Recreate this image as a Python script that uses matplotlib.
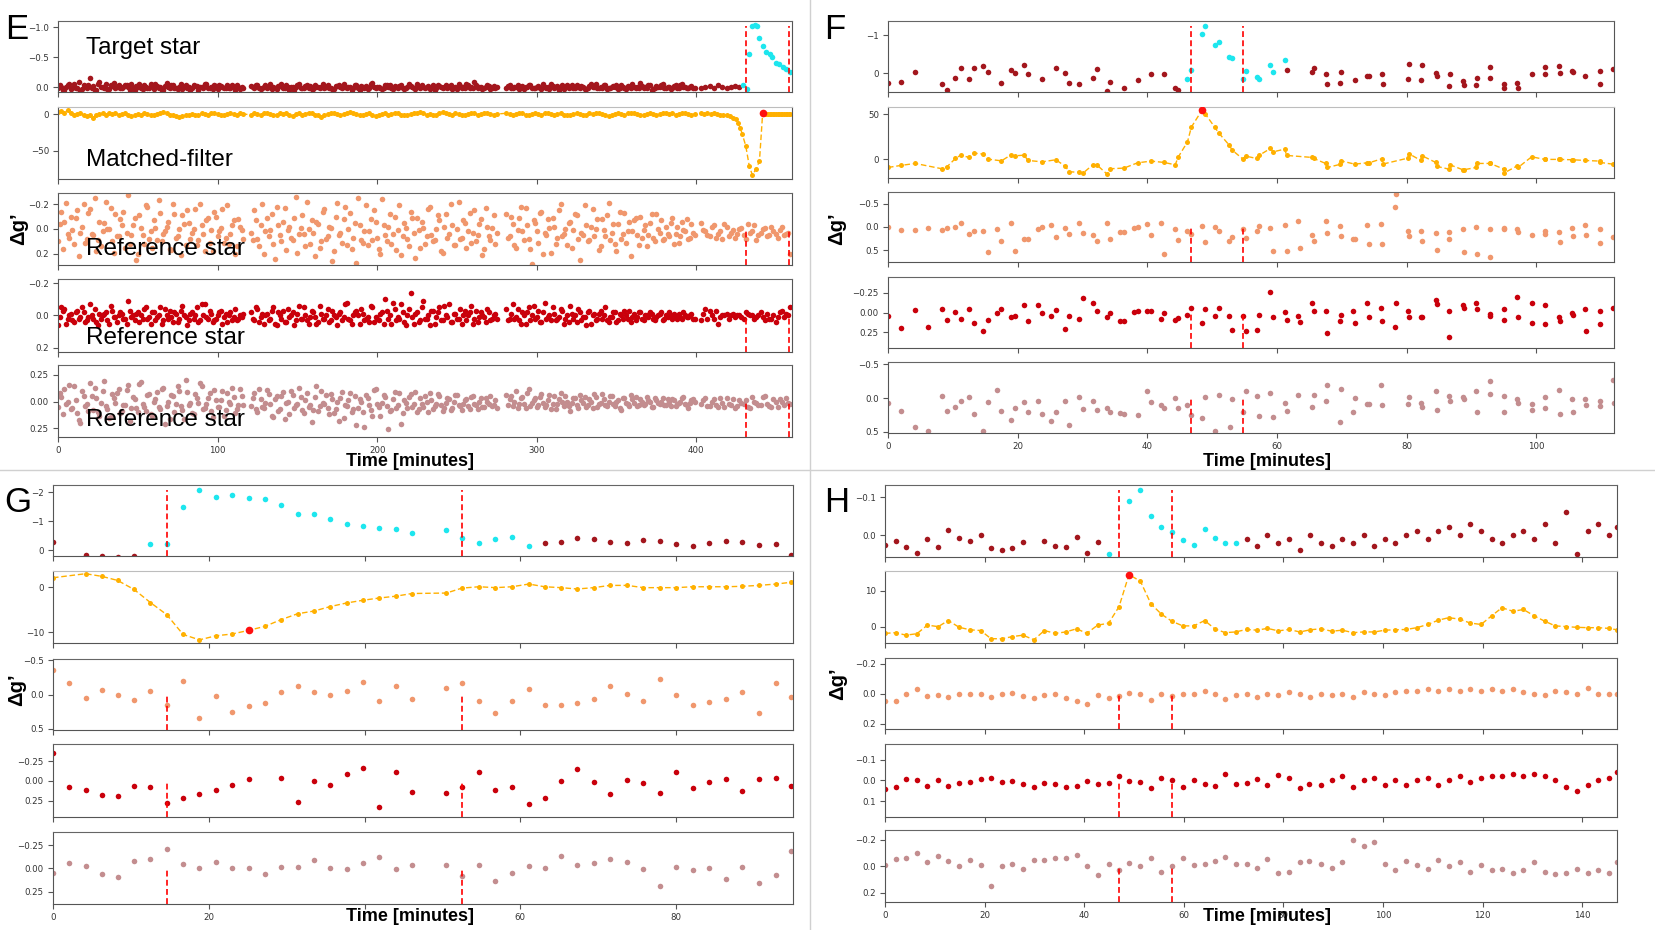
"""
Flare light curves of four events (panels E-H)
"""

import numpy as np
import matplotlib.pyplot as plt
from matplotlib.lines import Line2D


WIDTH, HEIGHT = 1655, 930

TARGET_COLOR = "#a3161d"
EVENT_COLOR = "#1de6ee"
FILTER_COLOR = "#ffb000"
PEAK_COLOR = "#ff1010"
REF_COLORS = ["#f0976d", "#c9000b", "#c38d8f"]
VLINE_COLOR = "#ff0000"
LABEL_FONT = ["Liberation Sans", "DejaVu Sans"]


# ---------------------------------------------------------------- panel E
# segment spans in minutes; "*2" lists are the samples taken half-way
# between the ones of the main list
E_SEGMENTS = [(0, 116), (121, 275), (281, 399)]
E_REF_TAIL_SPAN = (403, 459)
E_TARGET_TAIL_SPAN = (403, 427)
E_FILTER_TAIL_SPAN = (443, 459)

E_TARGET_A = [0.02, -0.01, 0.05, -0.03, 0.03, -0.06, 0.01, 0.06, -0.04, 0.02,
              -0.16, -0.02, 0.05, -0.08, 0.00, -0.05, 0.03, -0.02, 0.01, -0.04,
              0.02, -0.03, 0.00, -0.06, 0.04, -0.01, 0.02, -0.03, 0.01, -0.05,
              0.03, -0.02, 0.00, 0.04, -0.07, 0.01, -0.03, 0.02, -0.01, 0.03,
              -0.04, 0.00, 0.02, -0.02, 0.04, -0.01, -0.05, 0.02, 0.00, -0.03,
              0.03, -0.02, 0.01, -0.04, 0.02, 0.00, -0.03, 0.03, 0.01]
E_TARGET_A2 = [-0.03, 0.04, 0.00, -0.05, 0.02, 0.01, -0.09, 0.03, -0.02, -0.04,
               0.01, 0.05, -0.06, -0.01, 0.02, 0.03, -0.03, -0.07, 0.00, 0.02,
               -0.01, -0.04, 0.04, 0.01, -0.02, -0.05, 0.03, 0.00, 0.02, -0.03,
               -0.06, 0.01, 0.04, -0.02, 0.00, -0.04, 0.02, 0.03, -0.05, -0.01,
               0.01, 0.04, -0.03, -0.02, 0.00, 0.02, -0.06, 0.01, 0.03, -0.02,
               -0.04, 0.00, 0.02, 0.01, -0.03, 0.04, -0.01, 0.00]
E_TARGET_B = [-0.02, 0.01, -0.04, 0.03, -0.01, 0.02, -0.05, 0.00, 0.03, -0.02,
              0.01, -0.03, 0.04, -0.01, 0.00, -0.06, 0.02, -0.02, 0.01, 0.03,
              -0.03, 0.00, -0.01, 0.02, -0.04, 0.01, 0.03, -0.02, 0.00, -0.05,
              0.02, -0.01, 0.01, -0.03, 0.04, 0.00, -0.02, 0.02, -0.07, 0.01,
              -0.01, 0.03, -0.03, 0.00, 0.02, -0.02, 0.01, -0.04, 0.03, 0.00,
              -0.02, 0.01, -0.05, 0.02, 0.00, -0.01, 0.03, -0.03, 0.01, -0.02,
              0.02, -0.04, 0.00, 0.03, -0.01, -0.06, 0.01, 0.02, -0.03, 0.00,
              -0.08, 0.02, -0.01, 0.01, -0.03, 0.03, -0.02, 0.00]
E_TARGET_B2 = [0.00, -0.03, 0.02, 0.02, -0.04, -0.01, 0.03, 0.01, -0.02, -0.05,
               0.02, 0.00, -0.01, 0.04, -0.03, 0.01, 0.01, -0.04, -0.02, 0.03,
               0.00, 0.02, -0.05, -0.01, 0.01, 0.03, -0.02, -0.03, 0.02, 0.00,
               -0.01, 0.04, -0.04, 0.01, -0.02, 0.02, 0.03, -0.06, 0.00, -0.01,
               0.02, 0.01, -0.03, -0.04, 0.03, 0.00, -0.02, 0.02, 0.01, -0.05,
               -0.01, 0.03, 0.00, -0.03, 0.02, -0.02, 0.01, 0.04, -0.04, 0.00,
               -0.01, 0.02, -0.03, 0.01, 0.03, -0.02, 0.00, -0.05, 0.02, 0.01,
               -0.03, 0.00, 0.03, -0.01, -0.02, 0.01, 0.02]
E_TARGET_C = [0.01, -0.03, 0.02, -0.01, 0.03, -0.02, 0.00, -0.04, 0.02, 0.01,
              -0.02, 0.03, -0.01, 0.00, -0.05, 0.02, -0.02, 0.01, 0.03, -0.03,
              0.00, 0.02, -0.04, 0.01, -0.01, 0.03, -0.02, 0.00, -0.06, 0.02,
              0.01, -0.03, 0.02, -0.01, 0.00, 0.03, -0.04, 0.01, -0.02, 0.02,
              -0.01, 0.00, -0.07, 0.02, 0.01, -0.03, 0.03, -0.02, 0.00, -0.05,
              0.02, -0.01, 0.01, -0.03, 0.02, -0.06, 0.00, 0.02, -0.02, 0.01]
E_TARGET_C2 = [-0.02, 0.02, 0.00, -0.04, 0.01, 0.03, -0.01, -0.03, 0.02, 0.00,
               0.01, -0.05, 0.02, 0.03, -0.02, -0.01, 0.04, -0.03, 0.00, 0.01,
               -0.04, 0.02, 0.00, -0.02, 0.03, 0.01, -0.05, -0.01, 0.02, 0.00,
               -0.03, 0.03, 0.01, -0.02, -0.04, 0.02, 0.00, 0.03, -0.01, -0.06,
               0.01, 0.02, -0.02, 0.00, -0.03, 0.04, 0.01, -0.01, -0.04, 0.02,
               0.00, 0.03, -0.02, 0.01, -0.03, 0.00, 0.02, -0.01, 0.01]
E_TARGET_TAIL = [0.01, 0.00, -0.02, 0.01, -0.03, 0.00, 0.02, -0.01, -0.02, 0.00]
E_TARGET_EVENT = [(429.0, -0.03), (431.5, 0.03), (433.2, -0.55), (435.0, -1.02),
                  (436.5, -1.04), (437.8, -1.01), (439.5, -0.82), (441.8, -0.69),
                  (443.9, -0.58), (446.0, -0.55), (447.6, -0.50), (450.0, -0.41),
                  (452.0, -0.39), (454.2, -0.33), (456.2, -0.30), (459.0, -0.25)]

E_FILTER_A = [3, 4, 2, 5, 1, -1, 0, 2, -2, -3,
              -1, -5, -2, 0, 1, -1, 2, 0, 1, -1,
              0, 2, -1, -3, -2, 0, -1, 1, 0, -2,
              -1, 0, 2, 3, 1, -1, -2, -3, -4, -3,
              -2, -1, 0, -1, -2, 1, 0, -1, 2, 1,
              0, -1, -2, 0, 1, 0, -1, 1, 0]
E_FILTER_B = [-1, 1, 0, -2, 1, 2, 0, -1, -2, 1,
              0, 2, -1, -3, 0, 1, -1, 0, 2, 1,
              -1, -2, -4, -2, 0, 1, 2, 0, -1, 0,
              2, 3, 1, 0, -2, -1, 0, 1, -1, -3,
              -2, 0, 1, -1, 0, 2, 1, -1, -2, -1,
              0, 1, 2, 3, 1, -1, 0, -2, -1, 1,
              3, 2, 0, -1, 1, 0, -2, -1, 0, 2,
              1, -1, 0, 1, 2, 0, -1, 0]
E_FILTER_C = [1, 0, -1, 0, 2, 1, -1, -2, 0, 1,
              0, -1, 1, 2, 0, -1, 0, 1, -1, -2,
              -1, 0, 1, 0, -2, -1, 1, 0, 2, 1,
              0, -1, -3, -2, 0, 1, 0, -1, 1, 2,
              1, 0, -1, -2, 0, 1, 0, -1, 0, 2,
              1, 0, 1, -1, 0, 2, 1, 0, -1, 0]
E_FILTER_DIP = [(403, 1), (405, 0), (407, 1), (409, 0), (411, 1), (413, 0),
                (415, -1), (417, -1), (419, -2), (421, -3), (423, -5),
                (424.8, -7), (426.2, -12), (427.6, -19), (428.8, -27),
                (431.0, -43), (433.2, -70), (435.2, -83), (437.5, -74),
                (439.6, -64), (441.6, 1)]
E_FILTER_TAIL = [0.5, 0, 0, 0.5, 0, 0, 0.5, 0, 0, 0, 0.5, 0, 0, 0.5, 0, 0, 0]
E_PEAK = 441.6

E_REF1_A = [0.10, -0.14, -0.06, 0.04, -0.10, 0.12, -0.15, 0.03, -0.20, 0.08,
            -0.16, 0.05, 0.18, -0.06, 0.02, -0.22, 0.00, 0.10, -0.12, 0.06,
            -0.03, 0.15, -0.27, 0.05, -0.09, 0.20, -0.01, 0.12, -0.18, 0.02,
            -0.07, 0.09, -0.13, 0.04, -0.02, 0.16, -0.20, 0.07, 0.00, -0.11,
            0.13, -0.05, 0.03, -0.16, 0.09, -0.03, 0.18, -0.09, 0.01, -0.14,
            0.06, -0.01, 0.11, -0.19, 0.04, -0.07, 0.14, -0.02, 0.08]
E_REF1_A2 = [-0.04, 0.16, -0.21, 0.07, 0.01, -0.09, 0.22, -0.02, 0.11, -0.13,
             0.04, -0.25, 0.09, 0.14, -0.05, 0.00, -0.17, 0.19, 0.06, -0.08,
             -0.14, 0.03, 0.12, -0.03, 0.25, -0.11, 0.05, -0.19, 0.08, 0.15,
             -0.01, -0.23, 0.10, 0.02, -0.06, 0.17, -0.12, 0.06, 0.21, -0.04,
             -0.15, 0.08, 0.00, 0.13, -0.20, 0.04, -0.07, 0.11, 0.18, -0.10,
             0.02, -0.16, 0.07, 0.12, -0.03, 0.20, -0.08, 0.01]
E_REF1_B = [0.03, -0.15, 0.08, -0.03, 0.20, -0.09, 0.01, 0.12, -0.18, 0.05,
            -0.06, 0.17, -0.02, 0.09, -0.26, 0.04, -0.11, 0.14, 0.00, -0.07,
            0.22, -0.04, 0.10, -0.16, 0.06, -0.01, 0.18, -0.21, 0.03, -0.08,
            0.13, -0.13, 0.07, 0.27, -0.03, 0.11, -0.19, 0.02, 0.09, -0.06,
            0.16, -0.24, 0.05, -0.02, 0.12, -0.10, 0.01, 0.21, -0.05, 0.08,
            -0.14, 0.03, -0.09, 0.15, -0.01, 0.06, -0.18, 0.10, 0.00, -0.07,
            0.19, -0.12, 0.04, -0.03, 0.13, -0.22, 0.07, -0.05, 0.02, 0.11,
            -0.15, 0.05, -0.08, 0.16, -0.02, 0.09, -0.11, 0.03]
E_REF1_B2 = [0.09, -0.07, 0.14, -0.20, 0.02, 0.06, -0.12, 0.24, -0.03, 0.10,
             -0.17, 0.01, 0.07, -0.09, 0.19, -0.01, 0.04, -0.22, 0.12, 0.03,
             -0.06, 0.15, -0.14, 0.08, -0.02, 0.26, -0.10, 0.05, 0.11, -0.18,
             0.00, 0.16, -0.05, -0.25, 0.09, 0.02, 0.13, -0.08, -0.15, 0.07,
             0.20, -0.03, 0.10, -0.12, 0.04, 0.17, -0.19, 0.06, -0.01, 0.14,
             -0.09, 0.23, 0.01, -0.06, 0.12, -0.16, 0.05, 0.09, -0.11, 0.18,
             -0.02, 0.07, -0.20, 0.13, 0.00, 0.08, -0.07, 0.15, -0.13, 0.03,
             0.10, -0.04, 0.21, -0.17, 0.06, -0.01, 0.12]
E_REF1_C = [-0.12, 0.06, -0.04, 0.15, -0.09, 0.02, -0.17, 0.08, 0.28, -0.05,
            0.11, -0.14, 0.03, -0.08, 0.19, -0.02, 0.07, -0.20, 0.04, 0.13,
            -0.06, 0.01, -0.11, 0.25, 0.05, -0.03, 0.09, -0.16, 0.00, 0.17,
            -0.08, 0.06, -0.21, 0.03, 0.12, -0.04, 0.08, -0.13, 0.02, 0.22,
            -0.07, 0.05, -0.10, 0.01, 0.14, -0.05, 0.07, -0.12, 0.03, 0.09,
            -0.02, 0.06, -0.09, 0.04, 0.11, -0.06, 0.02, 0.08, -0.04, 0.05]
E_REF1_C2 = [0.07, -0.10, 0.13, 0.01, -0.18, 0.09, -0.03, 0.16, -0.07, 0.02,
             -0.13, 0.20, 0.05, -0.01, -0.09, 0.12, -0.15, 0.06, 0.00, -0.05,
             0.15, -0.12, 0.08, 0.03, -0.19, 0.10, -0.02, 0.06, -0.08, 0.14,
             0.01, -0.11, 0.09, -0.04, 0.18, -0.14, 0.04, 0.11, -0.06, 0.02,
             -0.09, 0.13, 0.07, -0.03, 0.05, -0.12, 0.10, 0.00, -0.07, 0.08,
             0.04, -0.05, 0.12, -0.02, 0.06, 0.01, -0.08, 0.07, 0.03]
E_REF1_TAIL = [-0.05, 0.02, 0.06, -0.03, 0.04, 0.08, -0.02, 0.03, 0.07, 0.00,
               0.05, -0.04, 0.02, 0.09, 0.03, -0.01, 0.05, 0.02, 0.07, -0.02,
               0.04, 0.20]
E_REF1_TAIL2 = [0.01, 0.05, -0.02, 0.07, 0.02, -0.04, 0.06, 0.01, 0.04, -0.01,
                0.08, 0.03, -0.03, 0.05, 0.00, 0.06, -0.02, 0.04, 0.01, 0.05, 0.03]

E_REF2_A = [0.06, -0.05, -0.04, 0.02, -0.01, 0.04, -0.03, 0.01, -0.02, 0.03,
            -0.07, 0.02, 0.04, -0.01, 0.00, -0.02, 0.05, -0.03, 0.01, 0.00,
            -0.01, 0.02, -0.09, 0.01, 0.03, -0.02, 0.00, -0.04, 0.02, 0.05,
            -0.02, 0.01, -0.05, 0.03, 0.00, -0.03, 0.04, -0.01, 0.02, -0.06,
            0.01, 0.03, -0.02, 0.00, 0.04, -0.07, -0.07, 0.02, -0.01, 0.03,
            0.00, -0.03, 0.01, 0.04, -0.02, 0.01, 0.03, 0.00, -0.01]
E_REF2_A2 = [0.01, -0.03, 0.05, 0.00, 0.03, -0.02, 0.02, -0.05, 0.04, 0.01,
             0.00, -0.04, 0.06, 0.02, -0.01, 0.03, -0.06, 0.01, 0.04, -0.02,
             0.02, 0.05, -0.03, 0.00, -0.01, 0.04, 0.02, -0.05, 0.01, -0.02,
             0.03, 0.00, 0.05, -0.04, 0.02, 0.01, -0.02, 0.04, -0.03, 0.00,
             0.06, -0.01, 0.02, -0.05, 0.03, 0.00, 0.01, -0.03, 0.04, 0.02,
             -0.02, 0.05, -0.01, 0.00, 0.03, -0.04, 0.02, 0.01]
E_REF2_B = [-0.02, 0.03, -0.04, 0.01, 0.05, -0.01, 0.02, -0.05, 0.06, 0.00,
            -0.03, 0.04, 0.01, -0.02, 0.03, -0.06, 0.02, 0.00, 0.05, -0.03,
            0.01, 0.04, -0.01, 0.02, -0.04, 0.03, 0.00, 0.06, -0.02, 0.01,
            -0.08, 0.03, 0.00, -0.03, 0.05, -0.01, 0.02, 0.04, -0.05, 0.01,
            0.03, -0.02, -0.10, 0.02, 0.05, -0.04, 0.01, -0.07, 0.04, 0.00,
            -0.14, 0.05, -0.02, 0.03, -0.09, 0.02, 0.06, -0.03, 0.01, -0.05,
            0.03, 0.00, -0.07, 0.04, -0.01, 0.02, 0.05, -0.03, 0.00, -0.06,
            0.02, 0.04, -0.02, 0.01, -0.04, 0.03, 0.00, 0.02]
E_REF2_B2 = [0.02, -0.05, 0.04, -0.01, 0.00, 0.03, -0.03, 0.05, -0.02, 0.02,
             0.04, -0.04, 0.00, 0.06, -0.01, 0.02, -0.05, 0.03, 0.01, -0.02,
             0.05, -0.06, 0.02, 0.00, 0.04, -0.03, 0.01, -0.01, 0.03, -0.07,
             0.02, 0.05, -0.02, 0.00, -0.04, 0.03, 0.01, -0.06, 0.04, 0.02,
             -0.01, 0.05, -0.03, 0.00, -0.08, 0.03, 0.02, -0.02, 0.06, -0.04,
             0.01, -0.01, 0.04, -0.05, 0.02, 0.00, -0.03, 0.05, -0.02, 0.03,
             -0.06, 0.01, 0.04, -0.01, 0.02, -0.04, 0.00, 0.03, -0.02, 0.05,
             -0.03, 0.01, 0.00, 0.04, -0.02, 0.02, -0.01]
E_REF2_C = [-0.04, 0.02, -0.07, 0.01, 0.03, -0.02, 0.05, -0.05, 0.00, 0.02,
            -0.03, 0.04, -0.08, 0.01, 0.03, -0.01, 0.02, -0.04, 0.05, 0.00,
            -0.06, 0.02, 0.04, -0.02, 0.01, 0.06, -0.03, 0.00, 0.03, -0.01,
            0.02, -0.05, 0.04, 0.01, -0.02, 0.03, 0.00, -0.03, 0.02, 0.04,
            -0.01, 0.01, -0.02, 0.03, 0.00, -0.02, 0.02, 0.01, -0.01, 0.03,
            0.00, -0.02, 0.02, 0.01, -0.01, 0.02, 0.00, 0.01, -0.01, 0.02]
E_REF2_C2 = [0.03, -0.01, 0.02, -0.04, 0.05, 0.00, -0.02, 0.03, -0.06, 0.01,
             0.04, -0.02, 0.02, 0.00, -0.05, 0.03, 0.01, -0.03, 0.02, 0.04,
             -0.01, 0.00, -0.04, 0.03, 0.01, -0.02, 0.05, -0.01, 0.02, -0.03,
             0.00, 0.03, 0.01, -0.02, 0.04, -0.01, 0.02, 0.00, -0.03, 0.01,
             0.03, -0.02, 0.02, 0.00, 0.01, -0.01, 0.03, 0.00, -0.02, 0.02,
             0.01, 0.00, -0.01, 0.02, 0.01, -0.02, 0.01, 0.00, 0.02]
E_REF2_TAIL = [0.03, -0.04, -0.03, 0.02, 0.05, 0.00, -0.01, 0.00, 0.01, 0.00,
               0.02, -0.01, 0.00, 0.01, -0.02, 0.03, 0.02, 0.00, 0.01, -0.03,
               -0.01, -0.05]
E_REF2_TAIL2 = [-0.01, 0.02, 0.00, -0.03, 0.01, 0.00, 0.02, -0.01, 0.00, 0.01,
                -0.02, 0.00, 0.02, 0.00, 0.01, -0.01, 0.02, 0.04, -0.02, 0.01, 0.00]

E_REF3_A = [0.05, -0.04, -0.12, 0.00, 0.07, -0.14, 0.11, 0.20, -0.05, 0.02,
            -0.17, 0.08, -0.03, 0.13, -0.10, 0.04, 0.15, -0.07, 0.01, -0.12,
            0.09, 0.03, -0.15, 0.06, -0.02, 0.10, -0.18, 0.05, -0.06, 0.12,
            0.00, -0.09, 0.07, -0.13, 0.04, 0.16, -0.05, 0.02, -0.10, 0.08,
            -0.20, 0.03, 0.11, -0.07, 0.01, -0.14, 0.06, -0.03, 0.09, -0.11,
            0.05, -0.01, 0.13, -0.08, 0.02, -0.04, 0.07, -0.12, 0.03]
E_REF3_A2 = [-0.08, 0.12, 0.02, -0.15, 0.06, -0.01, 0.17, -0.10, 0.04, 0.09,
             -0.05, -0.13, 0.10, 0.01, -0.19, 0.07, 0.14, -0.03, -0.08, 0.11,
             0.03, -0.11, 0.18, -0.04, 0.06, -0.16, 0.02, 0.09, -0.07, 0.13,
             -0.02, 0.05, -0.12, 0.21, 0.00, -0.06, 0.10, -0.14, 0.04, 0.16,
             -0.09, 0.01, 0.12, -0.03, -0.17, 0.07, 0.02, -0.08, 0.14, -0.01,
             0.05, -0.10, 0.08, 0.00, -0.13, 0.11, 0.03, -0.05]
E_REF3_B = [0.04, -0.08, 0.10, -0.02, 0.06, -0.11, 0.02, 0.14, -0.05, 0.07,
            -0.09, 0.01, 0.12, -0.06, 0.03, -0.13, 0.08, -0.01, 0.05, 0.19,
            -0.04, 0.09, -0.10, 0.02, 0.06, -0.07, 0.11, 0.00, -0.03, 0.15,
            0.04, -0.08, 0.07, 0.22, -0.02, 0.10, -0.06, 0.03, 0.13, -0.12,
            0.05, 0.01, -0.04, 0.26, 0.08, -0.09, 0.03, 0.21, -0.01, 0.06,
            -0.07, 0.02, 0.10, -0.03, 0.05, 0.00, -0.08, 0.07, 0.02, -0.05,
            0.09, 0.01, -0.02, 0.06, -0.06, 0.03, 0.08, -0.01, 0.04, -0.04,
            0.02, 0.07, -0.03, 0.05, 0.00, -0.05, 0.03, 0.06]
E_REF3_B2 = [-0.03, 0.07, -0.12, 0.05, 0.01, -0.07, 0.13, -0.02, 0.09, -0.05,
             0.16, 0.00, -0.10, 0.06, 0.02, -0.04, 0.11, -0.08, 0.03, 0.08,
             -0.14, 0.04, 0.01, -0.06, 0.12, -0.02, 0.07, 0.18, -0.09, 0.03,
             -0.01, 0.10, -0.05, 0.06, 0.00, 0.24, -0.03, 0.08, -0.11, 0.02,
             0.13, -0.06, 0.04, 0.09, -0.02, 0.06, -0.08, 0.11, 0.01, -0.04,
             0.05, -0.09, 0.07, 0.02, -0.05, 0.10, -0.01, 0.04, -0.07, 0.03,
             0.06, -0.03, 0.08, 0.00, -0.06, 0.04, 0.02, -0.02, 0.07, -0.05,
             0.03, 0.00, 0.05, -0.03, 0.02, 0.04, -0.01]
E_REF3_C = [-0.06, -0.02, 0.04, -0.10, 0.02, -0.04, 0.06, -0.12, 0.01, -0.03,
            0.03, -0.07, 0.05, -0.01, 0.07, -0.05, 0.02, -0.08, 0.04, 0.00,
            0.09, -0.03, 0.03, -0.06, 0.01, 0.05, -0.02, 0.06, -0.04, 0.02,
            -0.07, 0.03, 0.00, -0.05, 0.04, -0.01, 0.08, -0.03, 0.02, -0.06,
            0.01, 0.04, -0.02, 0.03, -0.04, 0.00, 0.05, -0.01, 0.02, -0.03,
            0.03, 0.00, -0.02, 0.04, 0.01, -0.03, 0.02, 0.06, -0.01, 0.00]
E_REF3_C2 = [0.03, -0.05, 0.00, 0.06, -0.03, 0.02, -0.08, 0.04, -0.01, 0.05,
             -0.04, 0.01, 0.03, -0.06, 0.02, 0.07, -0.02, 0.00, -0.05, 0.04,
             0.01, -0.03, 0.06, -0.01, -0.04, 0.03, 0.00, -0.07, 0.05, 0.01,
             -0.02, 0.04, -0.05, 0.02, 0.00, 0.06, -0.03, 0.01, 0.04, -0.02,
             -0.04, 0.03, 0.00, 0.02, -0.01, 0.05, -0.03, 0.01, 0.00, 0.03,
             -0.02, 0.04, -0.01, 0.02, 0.00, -0.04, 0.03, 0.01, -0.02]
E_REF3_TAIL = [0.02, -0.03, 0.04, -0.02, 0.05, 0.01, -0.03, 0.03, 0.06, -0.01,
               0.02, 0.05, -0.04, 0.01, 0.03, -0.05, 0.04, -0.02, 0.05, 0.00,
               -0.03, 0.02]
E_REF3_TAIL2 = [-0.01, 0.04, 0.00, 0.03, -0.03, 0.05, 0.02, -0.02, 0.04, 0.01,
                -0.01, 0.06, 0.00, 0.03, -0.04, 0.02, 0.05, 0.00, -0.02, 0.03, 0.01]

E_EVENT = (428.5, 460)
E_VLINES = [431, 458]


# ---------------------------------------------------------------- panel F
F_TARGET = [(0.0, 0.26), (2.0, 0.23), (4.2, -0.02), (8.3, 0.28), (9.1, 0.45),
            (10.4, 0.12), (11.2, -0.12), (12.5, 0.16), (13.2, -0.12), (14.7, -0.19),
            (15.4, -0.03), (17.5, 0.26), (18.9, -0.07), (19.6, 0.00), (21.0, -0.21),
            (21.6, 0.02), (23.8, 0.16), (25.9, -0.14), (27.3, 0.00), (28.0, 0.26),
            (29.5, 0.30), (31.6, 0.14), (32.2, -0.10), (33.8, 0.48), (34.3, 0.23),
            (36.4, 0.40), (38.5, 0.18), (40.6, 0.03), (42.6, 0.02), (44.3, 0.40),
            (44.8, 0.45), (46.2, 0.16), (46.8, -0.07), (48.5, -1.03), (48.9, -1.25),
            (50.4, -0.74), (51.0, -0.81), (52.6, -0.41), (53.1, -0.40), (54.7, 0.15),
            (55.2, -0.06), (56.9, 0.10), (57.3, 0.15), (59.0, -0.21), (59.4, -0.03),
            (61.2, -0.33), (61.5, -0.09), (65.4, -0.02), (65.7, -0.14), (67.5, 0.02),
            (67.8, 0.28), (69.7, 0.26), (69.9, -0.03), (72.0, 0.19), (73.9, 0.09),
            (74.2, 0.09), (76.2, 0.03), (76.3, 0.30), (80.2, 0.16), (80.4, -0.25),
            (82.2, 0.19), (82.4, -0.21), (84.5, 0.00), (84.7, 0.09), (86.5, 0.33),
            (86.7, 0.03), (88.7, 0.21), (88.8, 0.32), (90.7, 0.32), (90.8, 0.14),
            (92.8, -0.16), (92.9, 0.14), (95.0, 0.30), (95.1, 0.40), (97.1, 0.25),
            (97.2, 0.40), (99.3, 0.03), (101.3, -0.16), (101.4, 0.03), (103.5, -0.19),
            (103.6, 0.00), (105.5, -0.05), (105.6, -0.02), (107.6, 0.09), (109.8, -0.05),
            (109.9, 0.28), (111.8, -0.10)]
F_FILTER = [(0.0, -9.3), (2.0, -7.0), (4.2, -4.8), (8.3, -10.7), (9.1, -8.5),
            (10.4, 0.7), (11.2, 4.4), (12.5, 1.9), (13.2, 6.7), (14.7, 5.6),
            (15.4, 0.0), (17.5, -1.9), (18.9, 4.4), (19.6, 3.7), (21.0, 4.4),
            (21.6, -1.5), (23.8, -3.0), (25.9, -0.7), (27.3, -7.8), (28.0, -14.0),
            (29.5, -14.8), (30.1, -15.5), (31.6, -6.3), (32.2, -6.3), (33.8, -16.7),
            (34.3, -10.7), (36.4, -10.0), (38.5, -4.1), (40.6, -2.2), (42.6, -3.7),
            (44.3, -6.3), (44.8, 2.6), (46.2, 19.2), (46.8, 35.6), (48.5, 55.2),
            (48.9, 50.7), (50.4, 35.6), (51.0, 29.3), (52.6, 15.9), (53.1, 10.0),
            (54.7, 0.4), (55.2, 3.3), (56.9, 0.7), (57.3, 4.4), (59.0, 11.9),
            (59.4, 8.1), (61.2, 11.1), (61.5, 4.1), (65.4, 1.9), (65.7, 0.7),
            (67.5, -4.8), (67.8, -9.3), (69.7, -5.9), (69.9, -1.9), (72.0, -5.6),
            (73.9, -4.1), (74.2, -4.1), (76.2, 0.4), (76.3, -5.6), (80.2, 1.1),
            (80.4, 5.9), (82.2, -1.5), (82.4, 3.7), (84.5, -3.7), (84.7, -8.1),
            (86.5, -11.1), (86.7, -6.3), (88.7, -11.9), (88.8, -11.9), (90.7, -9.3),
            (90.8, -4.8), (92.8, -4.8), (92.9, -4.8), (95.0, -11.1), (95.1, -15.2),
            (97.1, -7.4), (97.2, -9.3), (99.3, 2.6), (101.3, -0.3), (101.4, -0.3),
            (103.5, -0.3), (103.6, -0.3), (105.5, -0.7), (105.6, -0.7), (107.6, -1.5),
            (109.8, -2.2), (109.9, -3.7), (111.8, -5.6)]
F_PEAK = 48.5
F_REF1 = [(0.0, 0.01), (2.0, 0.07), (4.2, 0.07), (6.2, 0.02), (8.3, 0.06),
          (9.1, 0.02), (10.4, 0.01), (11.2, -0.09), (12.5, 0.15), (13.2, 0.08),
          (14.7, 0.09), (15.4, 0.54), (16.8, 0.05), (17.5, 0.30), (18.9, -0.08),
          (19.6, 0.53), (21.0, 0.27), (21.6, 0.27), (23.2, 0.04), (23.8, -0.01),
          (25.2, -0.04), (25.9, 0.22), (27.3, 0.02), (28.0, 0.15), (29.5, -0.09),
          (30.1, 0.12), (31.6, 0.18), (32.2, 0.31), (33.8, -0.08), (34.3, 0.25),
          (35.8, 0.11), (36.4, 0.11), (37.9, 0.02), (38.5, 0.01), (40.0, -0.07),
          (40.6, 0.18), (42.1, -0.09), (42.6, 0.59), (44.3, 0.05), (44.8, 0.28),
          (46.2, 0.09), (46.8, 0.15), (48.5, -0.02), (48.9, 0.33), (50.4, 0.01),
          (51.0, 0.08), (52.6, 0.30), (53.1, 0.22), (54.7, 0.05), (55.2, 0.24),
          (56.9, 0.09), (57.3, -0.02), (59.0, 0.02), (59.4, 0.53), (61.2, -0.04),
          (61.5, 0.53), (63.3, -0.14), (63.6, 0.46), (65.4, 0.17), (65.7, 0.31),
          (67.5, -0.12), (67.8, 0.14), (69.7, -0.02), (69.9, 0.20), (71.8, 0.25),
          (72.1, 0.25), (73.9, -0.05), (74.2, 0.37), (76.1, -0.07), (76.2, 0.38),
          (78.2, -0.43), (78.4, -0.72), (80.2, 0.09), (80.4, 0.20), (82.2, 0.08),
          (82.4, 0.31), (84.5, 0.14), (84.7, 0.50), (86.5, 0.11), (86.6, 0.25),
          (88.7, 0.04), (88.8, 0.54), (90.7, 0.01), (90.8, 0.59), (92.8, 0.04),
          (92.9, 0.65), (95.0, 0.04), (95.1, 0.02), (97.1, 0.04), (97.2, 0.11),
          (99.3, 0.18), (101.3, 0.09), (101.4, 0.15), (103.5, 0.11), (103.6, 0.33),
          (105.5, 0.02), (105.6, 0.20), (107.6, -0.05), (107.7, 0.17), (109.8, 0.05),
          (109.9, 0.35), (111.8, 0.21)]
F_REF2 = [(0.0, 0.05), (2.0, 0.20), (4.2, -0.03), (6.2, 0.18), (8.3, -0.05),
          (9.1, 0.10), (10.4, -0.01), (11.2, 0.08), (12.5, -0.04), (13.2, 0.14),
          (14.7, 0.24), (15.4, 0.10), (16.8, 0.00), (17.5, -0.05), (18.9, 0.06),
          (19.6, 0.04), (21.0, -0.09), (21.6, 0.11), (23.2, -0.09), (23.8, 0.00),
          (25.2, 0.05), (25.9, -0.03), (27.3, 0.21), (28.0, 0.04), (29.5, 0.08),
          (30.1, -0.18), (31.6, -0.12), (32.2, -0.02), (33.8, 0.06), (34.3, 0.00),
          (35.8, 0.11), (36.4, 0.11), (37.9, -0.01), (38.5, -0.02), (40.0, -0.02),
          (40.6, -0.02), (42.1, 0.08), (42.6, 0.00), (44.3, 0.10), (44.8, 0.07),
          (46.2, 0.03), (46.8, -0.06), (48.5, 0.13), (48.9, -0.04), (50.4, 0.05),
          (51.0, -0.06), (52.6, 0.04), (53.1, 0.22), (54.7, 0.04), (55.2, 0.24),
          (56.9, 0.23), (57.3, 0.03), (59.0, -0.26), (59.4, 0.06), (61.2, -0.01),
          (61.5, 0.09), (63.3, 0.04), (63.6, 0.12), (65.4, -0.12), (65.7, -0.02),
          (67.5, -0.02), (67.8, 0.26), (69.7, 0.11), (69.9, 0.03), (71.8, -0.02),
          (72.1, 0.13), (73.9, -0.12), (74.2, 0.06), (76.1, -0.06), (76.2, 0.11),
          (78.2, 0.19), (78.4, -0.12), (80.2, -0.02), (80.4, 0.06), (82.2, 0.06),
          (82.4, 0.06), (84.5, -0.16), (84.7, -0.11), (86.5, 0.31), (86.6, -0.02),
          (88.7, -0.10), (88.8, -0.06), (90.7, -0.12), (90.8, -0.05), (92.8, 0.02),
          (92.9, 0.05), (95.0, -0.05), (95.1, 0.10), (97.1, -0.20), (97.2, 0.06),
          (99.3, -0.12), (99.4, 0.14), (101.3, -0.09), (101.4, 0.15), (103.5, 0.06),
          (103.6, 0.11), (105.5, 0.00), (105.6, 0.03), (107.6, -0.04), (107.7, 0.24),
          (109.8, -0.02), (109.9, 0.15), (111.8, -0.06)]
F_REF3 = [(0.0, 0.07), (2.0, 0.19), (4.2, 0.43), (6.2, 0.48), (8.3, -0.03),
          (9.1, 0.19), (10.4, 0.13), (11.2, 0.05), (12.5, -0.02), (13.2, 0.23),
          (14.7, 0.49), (15.4, 0.06), (16.8, -0.12), (17.5, 0.19), (18.9, 0.33),
          (19.6, 0.15), (21.0, 0.06), (21.6, 0.20), (23.2, 0.04), (23.8, 0.24),
          (25.2, 0.34), (25.9, 0.20), (27.3, 0.04), (28.0, 0.40), (29.5, -0.02),
          (30.1, 0.16), (31.6, 0.05), (32.2, 0.18), (33.8, 0.14), (34.3, 0.21),
          (35.8, 0.22), (36.4, 0.24), (38.5, 0.25), (40.0, -0.11), (40.6, 0.06),
          (42.1, 0.11), (42.6, 0.14), (44.3, 0.00), (44.8, 0.15), (46.2, 0.11),
          (46.8, 0.25), (48.5, 0.29), (48.9, -0.01), (50.4, 0.49), (51.0, -0.04),
          (52.7, 0.42), (53.1, 0.01), (54.7, 0.20), (55.2, -0.10), (56.9, -0.03),
          (57.3, 0.26), (59.0, -0.07), (59.4, 0.28), (61.2, 0.08), (61.5, 0.19),
          (63.3, -0.05), (65.4, 0.13), (65.7, -0.04), (67.5, 0.04), (67.8, -0.19),
          (69.7, 0.36), (69.9, -0.13), (71.8, 0.20), (72.1, 0.00), (73.9, 0.09),
          (74.2, 0.09), (76.1, -0.19), (76.2, 0.10), (80.2, 0.09), (80.4, -0.01),
          (82.2, 0.07), (82.4, 0.13), (84.5, -0.10), (84.7, 0.18), (86.5, -0.03),
          (86.7, 0.05), (88.7, -0.02), (88.8, 0.02), (90.7, -0.11), (90.8, 0.20),
          (92.8, -0.25), (92.9, -0.06), (95.0, -0.03), (95.1, 0.21), (97.1, 0.01),
          (97.2, 0.08), (99.3, 0.09), (99.4, 0.18), (101.3, -0.01), (101.4, 0.14),
          (103.5, -0.12), (103.6, 0.24), (105.5, 0.02), (105.6, 0.21), (107.6, 0.02),
          (107.7, 0.10), (109.8, 0.05), (109.9, 0.12), (111.8, -0.27), (112.0, 0.08)]
F_EVENT = (46.0, 61.3)
F_VLINES = [46.7, 54.7]


# ---------------------------------------------------------------- panel G
G_TARGET = [(0.0, -0.27), (4.2, 0.17), (6.3, 0.20), (8.3, 0.22), (10.4, 0.20),
            (12.5, -0.21), (14.6, -0.21), (16.7, -1.49), (18.8, -2.07), (20.9, -1.83),
            (23.0, -1.90), (25.1, -1.80), (27.2, -1.78), (29.3, -1.55), (31.4, -1.24),
            (33.5, -1.26), (35.6, -1.07), (37.7, -0.91), (39.8, -0.82), (41.9, -0.75),
            (44.0, -0.72), (46.1, -0.59), (50.5, -0.70), (52.5, -0.41), (54.7, -0.25),
            (56.8, -0.37), (58.9, -0.44), (61.1, -0.14), (63.1, -0.25), (65.2, -0.30),
            (67.3, -0.41), (69.4, -0.39), (71.5, -0.30), (73.7, -0.25), (75.8, -0.34),
            (77.9, -0.32), (80.0, -0.23), (82.1, -0.16), (84.2, -0.25), (86.4, -0.32),
            (88.5, -0.30), (90.6, -0.18), (92.8, -0.23), (94.8, 0.17)]
G_FILTER = [(0.0, 2.1), (4.2, 3.0), (6.3, 2.4), (8.3, 1.5), (10.4, -0.5),
            (12.5, -3.4), (14.6, -6.1), (16.7, -10.5), (18.8, -11.7), (20.9, -10.8),
            (23.0, -10.4), (25.1, -9.6), (27.2, -8.7), (29.3, -7.2), (31.4, -5.9),
            (33.5, -5.3), (35.6, -4.3), (37.7, -3.5), (39.8, -2.9), (41.9, -2.4),
            (44.0, -2.0), (46.1, -1.4), (50.5, -1.3), (52.5, -0.2), (54.7, 0.1),
            (56.8, -0.1), (58.9, 0.1), (61.1, 0.7), (63.1, 0.1), (65.2, -0.1),
            (67.3, -0.4), (69.4, -0.1), (71.5, 0.4), (73.7, 0.4), (75.8, -0.1),
            (77.9, -0.1), (80.0, -0.1), (82.1, 0.1), (84.2, 0.1), (86.4, 0.1),
            (88.5, 0.2), (90.6, 0.4), (92.8, 0.7), (94.8, 1.1)]
G_PEAK = 25.1
G_REF1 = [(0.0, -0.36), (2.1, -0.17), (4.2, 0.05), (6.3, -0.07), (8.3, 0.00),
          (10.4, 0.08), (12.5, -0.05), (14.6, 0.15), (16.7, -0.20), (18.8, 0.35),
          (20.9, 0.02), (23.0, 0.26), (25.1, 0.17), (27.2, 0.13), (29.3, -0.04),
          (31.4, -0.12), (33.5, -0.04), (35.6, 0.01), (37.7, -0.05), (39.8, -0.19),
          (41.9, 0.09), (44.0, -0.13), (46.1, 0.07), (50.5, -0.10), (52.5, -0.17),
          (54.7, 0.09), (56.8, 0.27), (58.9, 0.10), (61.1, -0.08), (63.1, 0.16),
          (65.2, 0.16), (67.3, 0.13), (69.4, 0.06), (71.5, -0.12), (73.7, -0.01),
          (75.8, 0.09), (77.9, -0.23), (80.0, 0.00), (82.1, 0.15), (84.2, 0.11),
          (86.4, 0.06), (88.5, -0.04), (90.6, 0.27), (92.8, -0.17), (94.8, 0.03)]
G_REF2 = [(0.0, -0.35), (2.1, 0.08), (4.2, 0.11), (6.3, 0.18), (8.3, 0.19),
          (10.4, 0.07), (12.5, 0.08), (14.6, 0.28), (16.7, 0.22), (18.8, 0.17),
          (20.9, 0.12), (23.0, 0.05), (25.1, -0.03), (29.3, -0.04), (31.4, 0.27),
          (33.5, 0.00), (35.6, 0.05), (37.7, -0.09), (39.8, -0.16), (41.9, 0.33),
          (44.0, -0.11), (46.1, 0.14), (50.5, 0.15), (52.5, 0.08), (54.7, -0.11),
          (56.8, 0.11), (58.9, 0.08), (61.1, 0.29), (63.1, 0.22), (65.2, 0.00),
          (67.3, -0.15), (69.4, 0.02), (71.5, 0.17), (73.7, -0.01), (75.8, 0.03),
          (77.9, 0.16), (80.0, -0.11), (82.1, 0.09), (84.2, 0.02), (86.4, -0.03),
          (88.5, 0.13), (90.6, -0.02), (92.8, -0.04), (94.8, 0.07)]
G_REF3 = [(0.0, 0.05), (2.1, -0.06), (4.2, -0.03), (6.3, 0.06), (8.3, 0.09),
          (10.4, -0.08), (12.5, -0.10), (14.6, -0.21), (16.7, -0.05), (18.8, -0.01),
          (20.9, -0.07), (23.0, -0.01), (25.1, 0.00), (27.2, 0.06), (29.3, -0.02),
          (31.4, -0.02), (33.5, -0.09), (35.6, 0.00), (37.7, 0.01), (39.8, -0.06),
          (41.9, -0.12), (44.0, 0.01), (46.1, -0.04), (50.5, -0.04), (52.5, 0.08),
          (54.7, -0.04), (56.8, 0.13), (58.9, 0.05), (61.1, -0.03), (63.1, 0.00),
          (65.2, -0.13), (67.3, -0.04), (69.4, -0.06), (71.5, -0.10), (73.7, -0.07),
          (75.8, 0.01), (77.9, 0.19), (80.0, -0.02), (82.1, 0.02), (84.2, 0.00),
          (86.4, 0.11), (88.5, -0.02), (90.6, 0.16), (92.8, 0.07), (94.8, -0.19)]
G_EVENT = (12.0, 61.5)
G_VLINES = [14.6, 52.5]


# ---------------------------------------------------------------- panel H
H_TARGET = [(0.0, 0.026), (2.15, 0.015), (4.2, 0.032), (6.4, 0.048), (8.5, 0.010),
            (10.7, 0.031), (12.7, -0.013), (14.9, 0.008), (17.1, 0.017), (19.2, 0.001),
            (21.3, 0.035), (23.5, 0.040), (25.6, 0.035), (27.7, 0.018), (32.0, 0.015),
            (34.2, 0.029), (36.3, 0.031), (38.5, 0.004), (40.5, 0.047), (42.7, 0.018),
            (44.9, 0.051), (49.0, -0.089), (51.3, -0.118), (53.4, -0.051), (55.5, -0.022),
            (57.6, -0.007), (59.8, 0.013), (62.0, 0.027), (64.2, -0.016), (66.2, 0.008),
            (68.3, 0.020), (70.4, 0.02), (72.6, 0.01), (74.7, 0.03), (76.8, 0.00),
            (79.0, 0.02), (81.1, 0.01), (83.3, 0.04), (85.4, 0.00), (87.6, 0.02),
            (89.7, 0.03), (91.8, 0.01), (94.0, 0.02), (96.1, 0.00), (98.3, 0.03),
            (100.4, 0.01), (102.5, 0.02), (104.7, 0.00), (106.8, -0.01), (109.0, 0.01),
            (111.1, -0.01), (113.2, -0.02), (115.4, 0.00), (117.5, -0.03), (119.7, -0.01),
            (121.8, 0.01), (123.9, 0.02), (126.1, 0.00), (128.2, -0.01), (130.4, 0.01),
            (132.5, -0.03), (134.6, 0.02), (136.8, -0.06), (138.9, 0.05), (141.1, -0.01),
            (143.2, -0.03), (145.3, 0.00), (147.0, -0.02)]
H_FILTER = [(0.0, -1.9), (2.15, -1.7), (4.2, -2.4), (6.4, -2.0), (8.5, 0.4),
            (10.7, 0.0), (12.7, 1.7), (14.9, -0.2), (17.1, -0.9), (19.2, -1.1),
            (21.3, -3.4), (23.5, -3.4), (25.6, -2.8), (27.7, -2.4), (29.9, -3.7),
            (32.0, -1.1), (34.2, -1.9), (36.3, -1.5), (38.5, -0.6), (40.5, -1.9),
            (42.7, 0.4), (44.9, 0.95), (47.0, 5.6), (49.0, 14.6), (51.3, 12.7),
            (53.4, 6.4), (55.5, 3.5), (57.6, 1.5), (59.8, 0.2), (62.0, 0.2),
            (64.2, 1.7), (66.2, -0.6), (68.3, -1.7), (70.4, -1.5), (72.6, -0.8),
            (74.7, -1.0), (76.8, -0.5), (79.0, -1.2), (81.1, -0.8), (83.3, -1.5),
            (85.4, -0.9), (87.6, -0.6), (89.7, -1.3), (91.8, -1.0), (94.0, -1.7),
            (96.1, -1.5), (98.3, -1.5), (100.4, -1.0), (102.5, -0.9), (104.7, -0.8),
            (106.8, -0.3), (109.0, 0.6), (111.1, 1.8), (113.2, 2.5), (115.4, 2.1),
            (117.5, 1.0), (119.7, 0.6), (121.8, 3.0), (123.9, 5.3), (126.1, 4.3),
            (128.2, 4.8), (130.4, 3.0), (132.5, 1.5), (134.6, 0.2), (136.8, 0.0),
            (138.9, -0.2), (141.1, -0.3), (143.2, -0.3), (145.3, -0.5), (147.0, -0.9)]
H_PEAK = 49.0
H_REF1 = [(0.0, 0.049), (2.15, 0.049), (4.2, 0.0), (6.4, -0.032), (8.5, 0.013),
          (10.7, 0.009), (12.7, 0.022), (14.9, 0.004), (17.1, 0.004), (19.2, 0.0),
          (21.3, 0.018), (23.5, 0.0), (25.6, -0.009), (27.7, 0.013), (29.9, 0.027),
          (32.0, 0.009), (34.2, 0.0), (36.3, 0.027), (38.5, 0.049), (40.5, 0.071),
          (42.7, 0.009), (44.9, 0.027), (47.0, 0.013), (49.0, -0.009), (51.3, 0.0),
          (53.4, 0.04), (55.5, 0.004), (57.6, 0.013), (59.8, 0.004), (62.0, 0.004),
          (64.2, -0.018), (66.2, 0.004), (68.3, 0.036), (70.4, 0.01), (72.6, 0.00),
          (74.7, 0.02), (76.8, 0.00), (79.0, 0.01), (81.1, -0.01), (83.3, 0.00),
          (85.4, 0.02), (87.6, 0.00), (89.7, 0.01), (91.8, 0.00), (94.0, 0.02),
          (96.1, -0.01), (98.3, 0.00), (100.4, 0.01), (102.5, -0.01), (104.7, -0.02),
          (106.8, -0.02), (109.0, -0.03), (111.1, -0.02), (113.2, -0.03), (115.4, -0.02),
          (117.5, -0.03), (119.7, -0.02), (121.8, -0.03), (123.9, -0.02), (126.1, -0.03),
          (128.2, -0.01), (130.4, 0.00), (132.5, 0.01), (134.6, -0.02), (136.8, -0.01),
          (138.9, 0.00), (141.1, -0.04), (143.2, 0.00), (145.3, 0.00), (147.0, 0.00)]
H_REF2 = [(0.0, 0.042), (2.15, 0.032), (4.2, -0.007), (6.4, -0.003), (8.5, 0.026),
          (10.7, 0.0), (12.7, 0.026), (14.9, 0.013), (17.1, 0.006), (19.2, -0.007),
          (21.3, -0.01), (23.5, 0.006), (25.6, 0.003), (27.7, 0.019), (29.9, 0.032),
          (32.0, 0.013), (34.2, 0.019), (36.3, 0.032), (38.5, 0.026), (40.5, 0.003),
          (42.7, 0.019), (44.9, 0.013), (47.0, -0.019), (49.0, 0.003), (51.3, 0.006),
          (53.4, 0.035), (55.5, -0.013), (57.6, -0.003), (59.8, 0.032), (62.0, 0.0),
          (64.2, 0.019), (66.2, 0.026), (68.3, -0.032), (70.4, 0.016), (72.6, 0.013),
          (74.7, -0.007), (76.8, 0.023), (79.0, -0.026), (81.1, -0.01), (83.3, 0.035),
          (85.1, 0.016), (87.6, 0.02), (89.7, 0.00), (91.8, -0.02), (94.0, 0.03),
          (96.1, 0.00), (98.3, -0.01), (100.4, 0.02), (102.5, 0.00), (104.7, 0.02),
          (106.8, 0.00), (109.0, -0.01), (111.1, 0.02), (113.2, 0.00), (115.4, -0.02),
          (117.5, 0.01), (119.7, -0.01), (121.8, -0.02), (123.9, -0.02), (126.1, -0.03),
          (128.2, -0.02), (130.4, -0.03), (132.5, -0.02), (134.6, 0.00), (136.8, 0.03),
          (138.9, 0.05), (141.1, 0.02), (143.2, 0.00), (145.3, -0.01), (147.0, -0.04)]
H_REF3 = [(0.0, -0.01), (2.15, -0.055), (4.2, -0.065), (6.4, -0.10), (8.5, -0.03),
          (10.7, -0.075), (12.7, -0.04), (14.9, 0.0), (17.1, -0.05), (19.2, -0.01),
          (21.3, 0.146), (23.5, -0.005), (25.6, -0.02), (27.7, 0.02), (29.9, -0.045),
          (32.0, -0.045), (34.2, -0.065), (36.3, -0.06), (38.5, -0.085), (40.5, -0.005),
          (42.7, 0.07), (44.9, -0.02), (47.0, 0.025), (49.0, -0.025), (51.3, -0.005),
          (53.4, -0.065), (55.5, 0.04), (57.6, -0.005), (59.8, -0.06), (62.0, -0.01),
          (64.2, -0.015), (66.2, -0.04), (68.3, -0.07), (70.4, -0.02), (72.6, -0.02),
          (74.7, 0.015), (76.8, -0.055), (79.0, 0.05), (81.1, 0.045), (83.3, -0.035),
          (85.1, -0.04), (87.6, -0.02), (89.7, 0.01), (91.8, -0.03), (94.0, -0.20),
          (96.1, -0.15), (98.3, -0.18), (100.4, -0.02), (102.5, 0.03), (104.7, -0.04),
          (106.8, -0.01), (109.0, 0.02), (111.1, -0.05), (113.2, 0.00), (115.4, -0.03),
          (117.5, 0.04), (119.7, -0.01), (121.8, 0.03), (123.9, 0.02), (126.1, 0.05),
          (128.2, 0.03), (130.4, -0.03), (132.5, 0.04), (134.6, 0.06), (136.8, 0.05),
          (138.9, 0.02), (141.1, 0.05), (143.2, 0.03), (145.3, 0.05), (147.0, -0.03)]
H_EVENT = (44.0, 72.0)
H_VLINES = [47.0, 57.6]


# ---------------------------------------------------------------- layout (pixels)
PANEL_X = {"E": (58, 792), "F": (888, 1614), "G": (53, 793), "H": (885, 1617)}
ROW_Y = {
    "E": [(21, 92), (107, 179), (193, 265), (279, 352), (365, 437)],
    "F": [(21, 92), (107, 178), (192, 262), (277, 348), (362, 433)],
    "G": [(485, 556), (571, 643), (659, 730), (744, 817), (832, 904)],
    "H": [(485, 557), (571, 643), (658, 729), (744, 817), (830, 902)],
}


def segments_to_pairs(spans, value_lists, mid_lists=None):

    """
    Spread each value list evenly over its time span; the optional
    mid lists hold the samples lying half-way between those.
    """

    pairs = []
    if mid_lists is None:
        mid_lists = [[] for _ in spans]
    for (start, end), values, mids in zip(spans, value_lists, mid_lists):
        times = np.linspace(start, end, len(values))
        pairs.extend(zip(times, values))
        mid_times = (times[:-1] + times[1:]) / 2
        pairs.extend(zip(mid_times, mids))
    return pairs


def unpack(pairs):
    t, v = zip(*pairs)
    return np.array(t, dtype=float), np.array(v, dtype=float)


def build_e():

    """
    Assemble the panel E series from its segments.
    """

    target = segments_to_pairs(
        E_SEGMENTS + [E_TARGET_TAIL_SPAN],
        [E_TARGET_A, E_TARGET_B, E_TARGET_C, E_TARGET_TAIL],
        [E_TARGET_A2, E_TARGET_B2, E_TARGET_C2, []],
    ) + E_TARGET_EVENT

    matched = segments_to_pairs(E_SEGMENTS, [E_FILTER_A, E_FILTER_B, E_FILTER_C])
    matched += E_FILTER_DIP
    matched += segments_to_pairs([E_FILTER_TAIL_SPAN], [E_FILTER_TAIL])

    spans = E_SEGMENTS + [E_REF_TAIL_SPAN]
    refs = [
        segments_to_pairs(spans, [E_REF1_A, E_REF1_B, E_REF1_C, E_REF1_TAIL],
                          [E_REF1_A2, E_REF1_B2, E_REF1_C2, E_REF1_TAIL2]),
        segments_to_pairs(spans, [E_REF2_A, E_REF2_B, E_REF2_C, E_REF2_TAIL],
                          [E_REF2_A2, E_REF2_B2, E_REF2_C2, E_REF2_TAIL2]),
        segments_to_pairs(spans, [E_REF3_A, E_REF3_B, E_REF3_C, E_REF3_TAIL],
                          [E_REF3_A2, E_REF3_B2, E_REF3_C2, E_REF3_TAIL2]),
    ]
    return target, matched, refs


def draw_panel(fig, name, cfg):

    """
    Draw the five stacked light-curve rows of one panel.
    """

    left, right = PANEL_X[name]
    axes = []

    for i, (top, bottom) in enumerate(ROW_Y[name]):
        ax = fig.add_axes([
            left / WIDTH,
            1 - bottom / HEIGHT,
            (right - left) / WIDTH,
            (bottom - top) / HEIGHT,
        ])
        ax.set_xlim(*cfg["xlim"])
        ax.set_ylim(*cfg["ylims"][i])
        ax.set_xticks(cfg["xticks"])
        ax.set_xticklabels(cfg["xlabels"])
        ax.set_yticks(cfg["yticks"][i])
        ax.set_yticklabels(cfg["ylabels"][i])
        ax.tick_params(
            labelsize=6.2, length=3.5, width=0.8,
            color="#555555", labelcolor="#333333", pad=3,
        )
        ax.tick_params(axis="x", labelbottom=(i == 4))
        for side in ("left", "bottom", "right"):
            ax.spines[side].set_color("#555555")
        ax.spines["top"].set_color("#bdbdbd" if i == 1 else "#666666")
        axes.append(ax)

    # target star, event part highlighted
    t, v = unpack(cfg["target"])
    lo, hi = cfg["event"]
    inside = (t >= lo) & (t <= hi)
    axes[0].plot(t[~inside], v[~inside], "o", color=TARGET_COLOR, ms=4, mew=0)
    axes[0].plot(t[inside], v[inside], "o", color=EVENT_COLOR, ms=4, mew=0)

    # matched-filter output with its detection peak
    t, v = unpack(cfg["matched"])
    axes[1].plot(t, v, "o", ls=(0, (4, 2)), lw=1, color=FILTER_COLOR, ms=3.6, mew=0)
    k = int(np.argmin(np.abs(t - cfg["peak"])))
    axes[1].plot(t[k], v[k], "o", color=PEAK_COLOR, ms=5.5, mew=0, zorder=5)

    # reference stars
    for ax, pairs, color in zip(axes[2:], cfg["refs"], REF_COLORS):
        t, v = unpack(pairs)
        ax.plot(t, v, "o", color=color, ms=4, mew=0)

    for x in cfg["vlines"]:
        axes[0].axvline(x, ymin=0, ymax=0.93, color=VLINE_COLOR,
                        ls=(0, (3.5, 2)), lw=1.2)
        for ax in axes[2:]:
            ax.axvline(x, ymin=0, ymax=0.5, color=VLINE_COLOR,
                       ls=(0, (3.5, 2)), lw=1.2)
    return axes


def fmt(values):
    return [f"{v}".replace("-", "\u2212") for v in values]


def main():

    fig = plt.figure(figsize=(WIDTH / 100, HEIGHT / 100), dpi=100)

    e_target, e_matched, e_refs = build_e()

    panels = {
        "E": dict(
            target=e_target, matched=e_matched, refs=e_refs,
            event=E_EVENT, vlines=E_VLINES, peak=E_PEAK,
            xlim=(0, 460), xticks=[0, 100, 200, 300, 400],
            xlabels=["0", "100", "200", "300", "400"],
            ylims=[(0.08, -1.1), (-88, 9.5), (0.29, -0.29), (0.225, -0.225), (0.33, -0.34)],
            yticks=[[-1.0, -0.5, 0.0], [-50, 0], [-0.2, 0, 0.2], [-0.2, 0, 0.2], [-0.25, 0, 0.25]],
            ylabels=[fmt(["-1.0", "-0.5", "0.0"]), fmt(["-50", "0"]),
                     fmt(["-0.2", "0.0", "0.2"]), fmt(["-0.2", "0.0", "0.2"]),
                     ["0.25", "0.00", "0.25"]],
        ),
        "F": dict(
            target=F_TARGET, matched=F_FILTER, refs=[F_REF1, F_REF2, F_REF3],
            event=F_EVENT, vlines=F_VLINES, peak=F_PEAK,
            xlim=(0, 112), xticks=[0, 20, 40, 60, 80, 100],
            xlabels=["0", "20", "40", "60", "80", "100"],
            ylims=[(0.5, -1.37), (-21, 58), (0.76, -0.76), (0.455, -0.455), (0.515, -0.53)],
            yticks=[[-1, 0], [0, 50], [-0.5, 0, 0.5], [-0.25, 0, 0.25], [-0.5, 0, 0.5]],
            ylabels=[fmt(["-1", "0"]), fmt(["0", "50"]), fmt(["-0.5", "0.0", "0.5"]),
                     fmt(["-0.25", "0.00", "0.25"]), fmt(["-0.5", "0.0", "0.5"])],
        ),
        "G": dict(
            target=G_TARGET, matched=G_FILTER, refs=[G_REF1, G_REF2, G_REF3],
            event=G_EVENT, vlines=G_VLINES, peak=G_PEAK,
            xlim=(0, 95), xticks=[0, 20, 40, 60, 80],
            # the "40" label sits under the axis title
            xlabels=["0", "20", "", "60", "80"],
            ylims=[(0.2, -2.25), (-12.4, 3.6), (0.52, -0.52), (0.46, -0.47), (0.38, -0.39)],
            yticks=[[-2, -1, 0], [-10, 0], [-0.5, 0, 0.5], [-0.25, 0, 0.25], [-0.25, 0, 0.25]],
            ylabels=[fmt(["-2", "-1", "0"]), fmt(["-10", "0"]), fmt(["-0.5", "0.0", "0.5"]),
                     fmt(["-0.25", "0.00", "0.25"]), fmt(["-0.25", "0.00", "0.25"])],
        ),
        "H": dict(
            target=H_TARGET, matched=H_FILTER, refs=[H_REF1, H_REF2, H_REF3],
            event=H_EVENT, vlines=H_VLINES, peak=H_PEAK,
            xlim=(0, 147), xticks=[0, 20, 40, 60, 80, 100, 120, 140],
            xlabels=["0", "20", "40", "60", "80", "100", "120", "140"],
            ylims=[(0.058, -0.132), (-4.6, 15.6), (0.235, -0.24), (0.177, -0.176), (0.27, -0.273)],
            yticks=[[-0.1, 0.0], [0, 10], [-0.2, 0, 0.2], [-0.1, 0, 0.1], [-0.2, 0, 0.2]],
            ylabels=[fmt(["-0.1", "0.0"]), fmt(["0", "10"]), fmt(["-0.2", "0.0", "0.2"]),
                     fmt(["-0.1", "0.0", "0.1"]), fmt(["-0.2", "0.0", "0.2"])],
        ),
    }

    for name, cfg in panels.items():
        draw_panel(fig, name, cfg)

    def fig_text(x, y, s, **kw):
        fig.text(x / WIDTH, 1 - y / HEIGHT, s, family=LABEL_FONT, **kw)

    # panel letters
    for letter, x, y in [("E", 5, 39), ("F", 824, 39), ("G", 4, 512), ("H", 824, 512)]:
        fig_text(x, y, letter, fontsize=25, va="baseline")

    # row captions of panel E
    for text, y in [("Target star", 54), ("Matched-filter", 166),
                    ("Reference star", 255), ("Reference star", 344),
                    ("Reference star", 426)]:
        fig_text(86, y, text, fontsize=17.5, va="baseline")

    # axis labels
    for x, y in [(19, 229), (837, 229), (17, 690), (838, 684)]:
        fig_text(x, y, "\u0394g\u2019", fontsize=14.5, fontweight="bold",
                 rotation=90, ha="center", va="center")
    for x, y in [(410, 466), (1267, 466), (410, 921), (1267, 921)]:
        fig_text(x, y, "Time [minutes]", fontsize=13, fontweight="bold",
                 ha="center", va="baseline")

    # quadrant separators
    fig.add_artist(Line2D([810 / WIDTH] * 2, [0, 1], transform=fig.transFigure,
                          color="#d0d0d0", lw=1))
    fig.add_artist(Line2D([0, 1], [1 - 470 / HEIGHT] * 2, transform=fig.transFigure,
                          color="#d0d0d0", lw=1))

    fig.savefig("out.png", dpi=100, facecolor="white")


if __name__ == "__main__":
    main()
